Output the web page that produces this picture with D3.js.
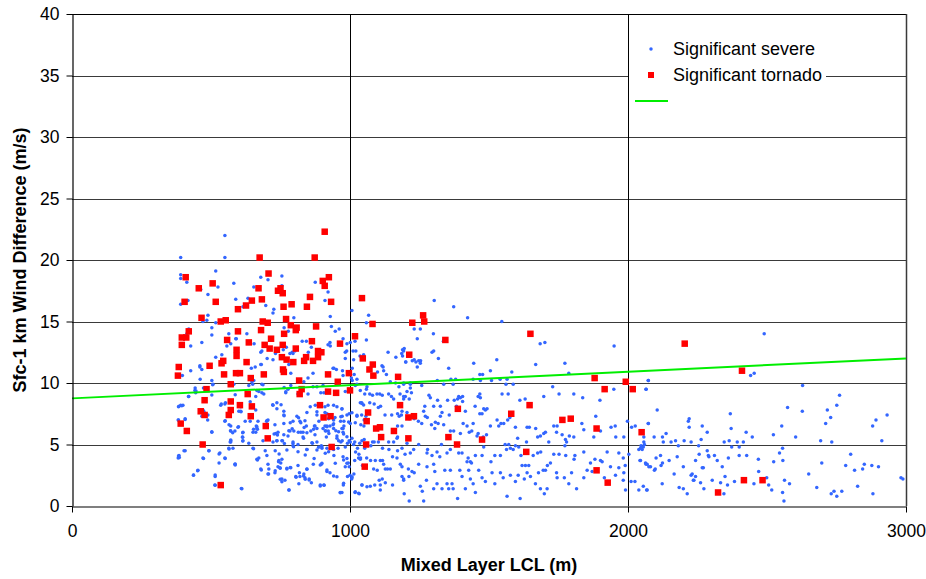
<!DOCTYPE html>
<html><head><meta charset="utf-8">
<script src="https://cdn.jsdelivr.net/npm/d3@7"></script>
<style>html,body{margin:0;padding:0;background:#fff;}svg{display:block;font-family:"Liberation Sans",Arial,sans-serif;}</style>
</head><body>
<svg id="c" width="926" height="579"></svg>
<script>
const xTicks = [0,1000,2000,3000];
const yTicks = [0,5,10,15,20,25,30,35,40];
const xTitle = "Mixed Layer LCL (m)";
const yTitle = "Sfc-1 km Wind Difference (m/s)";
const seriesNames = ["Significant severe","Significant tornado"];
const trendX = [0,3000];
const trendY = [8.75,12.0];

const severe = [
[550,22.0],[391,20.2],[550,20.2],[391,18.8],[391,18.5],[413,18.2],[517,19.1],[582,18.1],[525,17.8],[489,17.2],[463,17.6],[417,16.7],[391,16.4],[589,16.8],[654,17.8],[679,18.6],[705,18.4],[755,18.7],[755,17.9],[875,18.2],[921,17.4],[910,16.7],[633,16.9],[615,16.2],[697,16.3],[726,16.0],[723,15.7],[489,15.5],[485,15.1],[471,15.0],[517,14.9],[503,14.5],[420,14.4],[413,14.0],[503,13.9],[564,14.0],[589,13.6],[629,14.0],[467,13.3],[427,13.0],[763,14.5],[778,14.2],[798,15.3],[929,15.4],[933,14.6],[947,14.2],[961,14.4],[975,13.6],[1007,15.9],[1067,15.5],[1059,14.9],[1059,13.5],[1018,13.4],[1021,12.6],[1011,12.6],[989,13.2],[1001,13.3],[929,13.0],[828,13.4],[843,13.4],[861,12.9],[850,12.5],[792,12.5],[802,12.6],[771,12.9],[760,12.7],[795,12.4],[784,12.4],[928,13.3],[921,13.1],[557,13.0],[571,13.2],[591,13.6],[655,13.2],[679,12.5],[683,12.6],[702,12.0],[723,11.9],[681,11.5],[659,11.3],[645,11.2],[539,12.3],[517,12.1],[460,11.3],[427,11.0],[732,12.4],[983,12.5],[988,12.6],[1013,11.9],[1049,12.3],[1036,12.2],[1043,12.0],[1115,11.4],[1119,11.3],[1137,12.5],[1165,12.1],[1189,12.2],[1193,12.6],[1200,11.7],[942,11.2],[983,12.0],
[397,10.6],[460,11.4],[467,11.1],[442,9.4],[445,9.2],[420,8.9],[461,10.3],[507,9.9],[503,10.2],[537,8.3],[550,8.3],[582,9.9],[607,7.7],[636,9.8],[647,10.1],[654,10.2],[661,8.9],[665,9.4],[679,11.5],[683,9.9],[672,9.3],[690,9.1],[723,8.2],[737,8.4],[762,7.7],[762,7.4],[780,11.5],[787,10.8],[787,9.8],[777,9.5],[769,9.2],[813,9.1],[834,10.1],[849,10.4],[867,10.8],[867,9.7],[881,9.7],[849,9.1],[875,8.2],[903,9.8],[906,9.2],[895,9.2],[939,11.2],[975,10.6],[983,9.3],[951,11.1],[973,11.0],[910,7.6],[921,8.2],[941,8.2],[917,7.5],[971,7.9],[972,7.3],[845,7.6],[881,7.4],[888,6.9],[874,6.5],[859,6.1],[874,5.8],[903,6.3],[913,6.1],[915,5.6],[971,6.3],[975,6.0],[953,5.7],[978,6.5],[928,6.5],[831,6.0],[831,5.6],[843,6.5],[814,6.0],[820,6.9],[809,7.3],[795,6.9],[798,6.1],[784,6.1],[777,5.7],[762,6.7],[762,5.8],[741,6.0],[730,6.6],[723,5.2],[733,5.9],[700,6.9],[705,7.0],[663,6.5],[665,6.3],[661,6.0],[651,6.0],[615,6.0],[613,5.6],[615,5.3],[597,6.4],[586,6.1],[571,6.1],[571,5.3],[569,5.2],[503,6.0],[550,6.9],[489,7.4],[474,7.7],[467,7.3],[471,7.8],[407,7.1],[382,7.0],[391,8.2],[399,8.2],[385,8.1],[565,6.6],[571,6.5],[600,7.7],[641,6.9],[669,6.9],[623,6.9],[687,5.3],[737,5.3],[755,5.3],[795,4.9],[813,5.0],[795,5.2],[845,4.6],[865,5.1],[881,5.2],[897,4.9],[899,4.7],[917,4.7],[942,4.1],[975,4.0],[957,4.7],[972,5.3],[983,4.8],[991,5.1],[636,5.1],[651,4.7],[579,4.7],[564,4.7],[532,4.3],[492,4.5],[471,3.9],[403,4.5],[385,4.1],[382,3.9],[550,3.9],[529,3.5],[586,3.4],[665,3.8],[672,3.9],[701,4.1],[679,3.0],[708,3.0],[744,3.7],[755,3.8],[751,3.5],[741,3.2],[748,3.1],[730,2.7],[773,3.0],[787,3.1],[813,3.3],[805,2.4],[820,2.4],[838,2.3],[834,2.6],[845,3.0],[868,3.4],[897,3.4],[917,2.8],[928,2.7],[853,2.2],[861,1.9],[816,1.8],[755,2.2],[766,2.1],[705,2.6],[705,3.4],[780,1.3],[611,1.4],[515,2.4],[514,1.7],[437,2.5],[453,2.9],[965,1.1],[971,1.1],[893,1.7],[906,1.7],[976,1.7],[991,2.4],[1000,2.5],[1007,2.3],[994,3.5],[997,3.2],[1017,3.7],[1031,3.9],[1037,3.8],[1045,3.3],[1018,1.1],[1033,1.0],[1043,1.7],[1014,2.6],[1006,2.2],[1013,5.0],[1020,4.4],[1032,4.2],[1038,3.9],[1027,4.7],[1043,5.3],[997,5.3],[1001,5.2],[1007,5.5],[1017,5.2],[1035,5.1],[1051,5.4],[1053,4.7],[1075,4.9],[1081,5.2],[1087,5.2],[1102,5.2],[1117,4.7],[1139,5.2],[1157,5.2],[1169,5.5],[1171,5.6],[1060,3.9],[1074,3.7],[1091,3.7],[1109,3.7],[1117,3.7],[1121,3.4],[1127,3.0],[1145,3.0],[1135,3.0],[1085,3.0],[1098,2.9],[1105,2.1],[1116,2.2],[1127,1.9],[1073,1.6],[1089,1.7],[1109,1.7],[1109,1.3],[1153,1.7],[1187,2.4],[1193,2.2],[1212,2.4],[1181,3.4],[1169,3.9],[1153,4.0],[1140,4.6],[1171,4.5],[1198,4.2],[1050,6.5],[1051,7.0],[1057,7.3],[1042,7.4],[1025,7.3],[1039,6.6],[1001,6.7],[997,7.5],[1042,8.4],[1071,8.4],[1087,8.3],[1102,8.0],[1110,8.1],[1126,7.4],[1150,7.4],[1171,7.5],[1177,7.3],[1185,7.4],[1171,6.5],[1187,6.5],[1053,9.1],[1071,9.1],[1081,9.0],[1097,9.1],[1107,9.1],[1116,9.0],[1139,9.1],[1149,8.9],[1157,8.7],[1180,9.1],[1193,8.7],[1199,8.9],[1213,8.7],[1099,10.9],[1121,11.0],[1131,10.7],[1145,10.1],[1164,10.0],[1176,9.7],[1193,10.0],[1217,10.0],[1019,9.8],[1037,9.4],[1059,9.5],[1061,9.7],[1025,10.3],[1025,9.9],[1005,10.4],[1008,10.2],[1015,10.7],[1008,11.2],[946,7.2],[966,6.9],[978,6.9],[941,7.0],[939,6.6],[910,6.5],[917,6.5],[924,5.9],[922,6.1],[941,6.3],[953,5.5],[959,5.3],[967,5.2],
[443,9.6],[446,9.35],[473,9.6],[506,9.86],[503,9.02],[419,8.9],[383,8.07],[395,8.15],[535,8.2],[552,8.4],[587,9.05],[608,7.67],[607,8.07],[641,8.48],[661,7.8],[683,9.21],[687,9.86],[650,9.89],[722,8.23],[752,8.23],[737,7.91],[763,7.34],[785,6.77],[780,6.12],[792,6.28],[769,9.29],[763,9.64],[815,7.18],[823,6.77],[838,6.93],[835,6.39],[823,5.99],[845,5.96],[833,5.5],[857,8.07],[881,7.67],[872,6.5],[869,6.23],[887,8.15],[910,8.07],[923,7.1],[953,8.07],[971,7.88],[967,7.26],[989,7.4],[995,6.83],[1007,7.58],[1019,6.77],[1025,7.37],[1037,8.4],[1043,8.34],[1049,8.21],[881,6.31],[911,6.12],[917,6.45],[941,6.69],[949,6.12],[959,6.04],[975,6.31],[977,5.85],[989,5.63],[383,6.99],[407,7.04],[488,6.99],[503,6.04],[551,6.93],[570,6.12],[578,5.96],[599,6.45],[614,5.96],[614,5.58],[614,5.28],[571,5.36],[571,5.2],[653,6.23],[665,6.45],[667,6.23],[701,6.93],[697,6.5],[727,5.85],[739,5.77],[757,5.31],[737,5.31],[764,5.09],[407,4.49],[386,3.95],[383,4.06],[473,3.87],[493,4.49],[529,4.22],[551,3.87],[565,4.63],[587,3.41],[653,4.66],[667,3.74],[695,4.49],[731,4.49],[745,4.22],[773,4.55],[795,5.09],[797,4.82],[813,4.41],[845,4.6],[839,4.14],[863,5.15],[881,4.55],[887,4.77],[899,4.82],[911,4.28],[923,4.41],[941,4.6],[947,3.47],[977,3.74],[989,3.87],[989,3.47],[452,2.87],[437,2.52],[515,2.52],[515,1.68],[587,3.33],[609,1.43],[681,2.92],[707,2.6],[731,2.87],[749,3.06],[743,3.6],[749,2.17],[755,1.97],[773,3.06],[785,3.14],[806,2.33],[818,2.71],[833,2.44],[839,2.17],[853,2.11],[845,2.98],[871,3.87],[893,3.33],[899,3.47],[917,2.92],[941,2.44],[953,2.38],[965,1.08],[977,1.84],[983,3.19],[1007,2.38],[1019,1.16],[1031,1.03],[1043,1.7],[1061,1.57],[781,1.3],[893,1.62],[907,1.68],
[1303,16.7],[1373,16.2],[1423,15.3],[1546,15.0],[1231,14.4],[1253,14.4],[1242,13.6],[1300,14.0],[1338,13.5],[1336,13.4],[1189,12.7],[1195,12.8],[1186,12.4],[1201,11.7],[1224,11.8],[1231,11.9],[1237,11.7],[1247,11.8],[1253,11.6],[1254,11.8],[1242,11.3],[1295,12.5],[1301,12.6],[1318,12.0],[1355,11.2],[1445,11.6],[1467,10.7],[1505,11.0],[1528,11.9],[1582,10.9],[1668,11.5],[1773,11.6],[1787,10.8],[1950,13.0],[1701,13.3],[1684,13.2],[1193,9.9],[1217,9.9],[1221,9.2],[1258,9.8],[1314,10.2],[1337,9.9],[1363,10.3],[1380,10.3],[1371,9.9],[1443,10.3],[1469,10.2],[1477,10.7],[1509,10.2],[1540,10.3],[1565,10.3],[1561,9.9],[1587,9.9],[1547,9.1],[1569,9.1],[1611,8.6],[1630,8.7],[1697,8.9],[1729,9.7],[1752,9.1],[1805,9.1],[1899,8.6],[1949,9.5],[2065,9.5],[2073,10.2],[1837,8.8],[1193,8.9],[1205,9.3],[1217,9.6],[1284,9.0],[1289,8.8],[1269,8.1],[1265,7.7],[1301,8.1],[1325,8.1],[1331,7.6],[1315,8.6],[1351,8.6],[1375,8.6],[1391,8.9],[1387,8.7],[1397,8.8],[1405,8.9],[1383,8.1],[1405,8.5],[1415,7.7],[1450,8.1],[1461,8.9],[1467,9.1],[1469,8.8],[1475,7.5],[1467,7.5],[1487,7.8],[1481,7.9],[1493,7.9],[1187,7.7],[1205,7.6],[1213,7.1],[1231,7.1],[1246,6.9],[1258,6.7],[1271,7.3],[1278,7.2],[1293,6.6],[1305,6.3],[1307,6.8],[1325,7.3],[1337,6.6],[1317,6.7],[1361,6.1],[1373,6.1],[1357,7.4],[1397,5.9],[1407,6.7],[1421,6.5],[1429,6.0],[1438,6.1],[1443,6.7],[1461,5.9],[1457,5.7],[1479,5.6],[1491,5.8],[1505,6.5],[1529,7.0],[1535,6.5],[1543,6.7],[1553,6.7],[1567,7.0],[1575,7.2],[1595,6.4],[1603,5.5],[1635,5.2],[1637,6.4],[1645,6.4],[1668,6.3],[1685,5.7],[1675,5.6],[1697,5.9],[1703,6.0],[1715,5.2],[1733,6.5],[1745,6.5],[1743,6.0],[1763,5.8],[1775,5.4],[1789,5.7],[1805,5.6],[1779,5.2],[1834,6.7],[1841,6.2],[1884,7.3],[1877,5.6],[1901,6.1],[1939,6.4],[1954,6.5],[1956,5.6],[1985,5.6],[1998,6.9],[2013,6.4],[2026,6.5],[2039,4.6],[2047,4.9],[2057,5.2],[2073,6.7],
[1187,3.2],[1193,2.1],[1195,1.0],[1213,0.4],[1210,3.0],[1223,2.8],[1231,2.7],[1247,3.4],[1253,1.6],[1260,1.2],[1265,0.4],[1277,3.2],[1275,2.1],[1301,3.4],[1305,2.8],[1301,1.4],[1313,1.8],[1331,1.4],[1341,2.9],[1349,1.8],[1355,1.4],[1361,2.9],[1371,1.4],[1367,1.8],[1387,0.6],[1395,2.9],[1403,2.4],[1415,1.4],[1421,3.6],[1427,2.9],[1433,2.2],[1443,1.8],[1451,1.1],[1463,2.9],[1475,2.3],[1487,2.0],[1511,2.7],[1521,1.8],[1541,2.7],[1551,2.3],[1565,0.8],[1577,2.5],[1595,2.0],[1605,2.5],[1612,0.6],[1627,2.2],[1637,2.7],[1649,2.4],[1667,1.8],[1678,2.7],[1685,1.4],[1695,2.9],[1699,1.0],[1709,1.4],[1721,3.5],[1743,2.7],[1745,2.3],[1771,2.3],[1787,1.8],[1797,2.7],[1815,1.4],[1841,2.3],[1853,2.9],[1871,2.8],[1885,2.9],[1907,3.6],[1915,2.3],[1937,3.2],[1955,2.5],[1967,3.1],[1985,2.7],[1983,2.1],[1991,1.3],[2011,2.0],[2025,2.0],[2039,1.3],[2067,1.3],[2069,3.4],[1187,4.7],[1205,5.1],[1217,4.3],[1229,4.6],[1247,5.0],[1277,4.3],[1279,4.6],[1295,4.1],[1313,4.4],[1323,4.0],[1329,5.0],[1349,4.3],[1361,4.6],[1391,4.3],[1403,4.3],[1425,3.9],[1433,3.6],[1437,3.5],[1451,4.1],[1475,4.1],[1481,4.8],[1507,3.6],[1521,4.1],[1541,4.1],[1558,5.0],[1563,4.6],[1571,5.0],[1577,4.7],[1587,4.6],[1595,4.9],[1607,4.8],[1615,4.1],[1619,3.3],[1631,3.3],[1643,3.3],[1659,4.1],[1675,4.3],[1686,4.4],[1703,2.9],[1710,3.3],[1733,4.2],[1752,4.2],[1773,4.9],[1776,4.1],[1806,3.8],[1809,4.1],[1841,4.4],[1865,3.5],[1881,3.8],[1901,3.7],[1925,4.4],[1967,4.3],[1983,3.9],[1990,3.3],[2003,4.2],[2043,3.7],[2051,4.6],[2063,3.5],[2075,3.2],
[2490,14.0],[2441,10.6],[2454,10.8],[2073,10.2],[2065,9.5],[2628,9.8],[2761,9.0],[2751,8.2],[2717,7.8],[2729,7.2],[2711,6.7],[2627,7.7],[2574,8.0],[2932,7.4],[2892,7.0],[2880,6.5],[2105,7.8],[2073,6.7],[2220,7.1],[2217,6.9],[2220,6.4],[2267,6.5],[2285,6.0],[2368,7.5],[2371,6.3],[2425,6.0],[2447,5.6],[2553,6.5],[2523,5.8],[2603,5.6],[2693,5.3],[2733,5.2],[2913,5.3],[2057,5.6],[2059,5.0],[2094,5.6],[2124,5.6],[2137,5.9],[2127,5.2],[2155,5.2],[2171,5.3],[2181,4.9],[2202,5.3],[2227,5.2],[2263,5.4],[2254,4.9],[2285,4.5],[2346,5.2],[2364,5.3],[2373,4.8],[2393,5.2],[2400,4.8],[2415,5.2],[2055,4.8],[2045,4.7],[2101,3.9],[2117,4.1],[2148,3.7],[2177,4.0],[2256,4.2],[2289,4.1],[2311,4.1],[2291,4.0],[2243,3.7],[2339,3.2],[2321,3.7],[2361,3.9],[2400,4.1],[2427,4.1],[2469,3.8],[2524,3.6],[2545,4.3],[2556,4.7],[2557,3.7],[2801,4.2],[2697,3.5],[2783,3.3],[2850,3.4],[2877,3.3],[2901,3.2],[2815,2.9],[2844,3.0],[2045,3.7],[2065,3.4],[2081,3.2],[2098,3.0],[2095,2.9],[2119,3.3],[2124,3.5],[2166,2.6],[2199,3.2],[2231,2.6],[2227,2.5],[2243,2.4],[2237,2.1],[2271,3.1],[2267,3.1],[2235,2.1],[2261,1.9],[2273,1.4],[2303,2.1],[2333,1.9],[2349,2.4],[2358,1.7],[2383,2.0],[2418,2.1],[2453,1.8],[2499,2.3],[2506,1.7],[2517,1.3],[2470,2.8],[2563,2.1],[2581,1.8],[2556,1.1],[2561,0.4],[2650,2.6],[2679,1.5],[2731,1.0],[2741,1.2],[2751,0.8],[2769,1.2],[2826,1.6],[2881,1.0],[2982,2.3],[2989,2.2],[2055,1.6],[2069,1.3],[2123,1.8],[2184,1.5],[2199,1.4],[2213,1.0],[2345,1.0]
];

const tornado = [
[909,22.3],[675,20.2],[873,20.2],[409,18.6],[506,18.1],[456,17.7],[707,18.9],[671,17.7],[750,17.7],[741,17.5],[758,17.3],[902,18.3],[924,18.6],[909,17.9],[405,16.6],[517,16.6],[647,16.7],[683,16.8],[626,16.3],[597,16.0],[761,16.2],[790,16.4],[845,16.2],[856,17.0],[932,16.6],[1043,16.9],[466,15.3],[535,15.0],[553,15.1],[686,15.0],[704,14.9],[770,15.2],[787,14.7],[808,14.5],[805,14.3],[878,14.6],[680,14.3],[597,14.2],[420,14.2],[395,13.7],[411,13.7],[395,13.1],[763,14.0],[716,13.6],[558,13.5],[636,13.3],[693,13.1],[737,12.7],[758,13.1],[805,12.8],[592,12.7],[592,12.2],[711,12.8],[755,12.1],[772,11.9],[796,11.7],[842,12.1],[863,13.4],[885,12.6],[897,12.5],[885,12.1],[867,11.8],[835,11.8],[628,11.7],[544,11.8],[538,11.6],[495,11.4],[384,11.3],[964,13.2],[1018,13.8],[1081,14.8],[1046,12.0],[1082,11.5],[1213,12.3],[759,11.1],
[381,10.6],[547,10.7],[590,10.8],[604,10.8],[643,10.4],[690,10.7],[762,10.9],[817,10.2],[826,9.5],[819,9.1],[921,10.7],[956,10.1],[996,10.8],[1000,9.4],[921,9.3],[950,9.2],[484,9.5],[571,9.9],[632,9.1],[477,8.6],[571,8.5],[604,8.2],[647,8.1],[571,7.8],[564,7.4],[463,7.7],[477,7.4],[643,7.3],[391,6.7],[413,6.1],[697,6.5],[704,5.5],[470,5.0],[535,1.7],[892,8.2],[905,7.2],[930,7.3],[934,4.8],[1070,11.1],[1084,10.6],[1173,10.5],[1180,8.2],[1065,7.6],[1060,6.9],[1094,6.3],[1108,6.4],[1112,5.6],[1158,6.1],[1210,7.2],[1210,5.5],[1058,5.0],[1053,3.2],
[1263,15.5],[1224,14.9],[1267,15.0],[1343,13.5],[1649,14.0],[1230,7.3],[1388,7.9],[1354,5.6],[1385,5.0],[1475,5.4],[1580,7.5],[1646,8.2],[1634,4.4],[1764,7.0],[1794,7.1],[1880,10.4],[1916,9.5],[1992,10.1],[2017,9.5],[1887,6.3],[2049,6.0],[1887,2.9],[1927,1.9],
[2204,13.2],[2410,11.0],[2417,2.1],[2484,2.1],[2324,1.1]
];

const svg = d3.select("#c");
const L=72,R=906,T=14,B=506;
const x = d3.scaleLinear().domain([0,3000]).range([L,R]);
const y = d3.scaleLinear().domain([0,40]).range([B,T]);
const FONT = "Liberation Sans, Arial, sans-serif";

// gridlines
svg.append("g").selectAll("line").data(yTicks.filter(v=>v>0)).join("line")
  .attr("x1",L).attr("x2",R).attr("y1",d=>Math.round(y(d))+0.5).attr("y2",d=>Math.round(y(d))+0.5)
  .attr("stroke",d=>d===40?"#000":"#3a3a3a").attr("stroke-width",1);
svg.append("g").selectAll("line").data(xTicks.filter(v=>v>0)).join("line")
  .attr("x1",d=>Math.round(x(d))+0.5).attr("x2",d=>Math.round(x(d))+0.5).attr("y1",T).attr("y2",B)
  .attr("stroke",d=>d===3000?"#3a3a3a":"#000").attr("stroke-width",d=>d===3000?1.5:1);

// points
const g = svg.append("g");
g.selectAll("circle").data(severe).join("circle")
  .attr("cx",d=>x(d[0])).attr("cy",d=>y(d[1])).attr("r",1.75).attr("fill","#3366ff");
const s=6.5;
g.selectAll("rect.t").data(tornado).join("rect").attr("class","t")
  .attr("x",d=>x(d[0])-s/2).attr("y",d=>y(d[1])-s/2).attr("width",s).attr("height",s).attr("fill","#ff0000");

// trend line
svg.append("line").attr("x1",x(trendX[0])).attr("y1",y(trendY[0])).attr("x2",x(trendX[1])).attr("y2",y(trendY[1]))
  .attr("stroke","#00ee00").attr("stroke-width",2);

// axes
const ax = svg.append("g").attr("transform",`translate(0,${B+0.5})`)
  .call(d3.axisBottom(x).tickValues(xTicks).tickFormat(d3.format("d")).tickSize(6).tickSizeOuter(0).tickPadding(12));
const ay = svg.append("g").attr("transform",`translate(${L+0.5},0)`)
  .call(d3.axisLeft(y).tickValues(yTicks).tickFormat(d3.format("d")).tickSize(6).tickSizeOuter(0).tickPadding(7));
[ax,ay].forEach(a=>{a.select(".domain").attr("stroke","#000").attr("stroke-width",1.2);
  a.selectAll(".tick line").attr("stroke","#000");
  a.selectAll(".tick text").attr("font-size",17.5).attr("fill","#000").attr("font-family",FONT);});

// legend
const lg = svg.append("g");
lg.append("rect").attr("x",629).attr("y",15).attr("width",197).attr("height",110).attr("fill","#fff");
lg.append("circle").attr("cx",651).attr("cy",49).attr("r",1.75).attr("fill","#3366ff");
lg.append("rect").attr("x",648).attr("y",72).attr("width",6).attr("height",6).attr("fill","#ff0000");
lg.append("line").attr("x1",635).attr("x2",668).attr("y1",101).attr("y2",101).attr("stroke","#00ee00").attr("stroke-width",2);
lg.selectAll("text").data(seriesNames).join("text").attr("x",673).attr("y",(d,i)=>55+i*26)
  .attr("font-size",18).attr("fill","#000").attr("font-family",FONT).text(d=>d);

// titles
svg.append("text").attr("x",(L+R)/2).attr("y",571).attr("text-anchor","middle").attr("font-weight","bold").attr("font-size",18).attr("font-family",FONT).text(xTitle);
svg.append("text").attr("transform",`translate(26,${(T+B)/2}) rotate(-90)`).attr("text-anchor","middle").attr("font-weight","bold").attr("font-size",18).attr("font-family",FONT).text(yTitle);
</script>
</body></html>
